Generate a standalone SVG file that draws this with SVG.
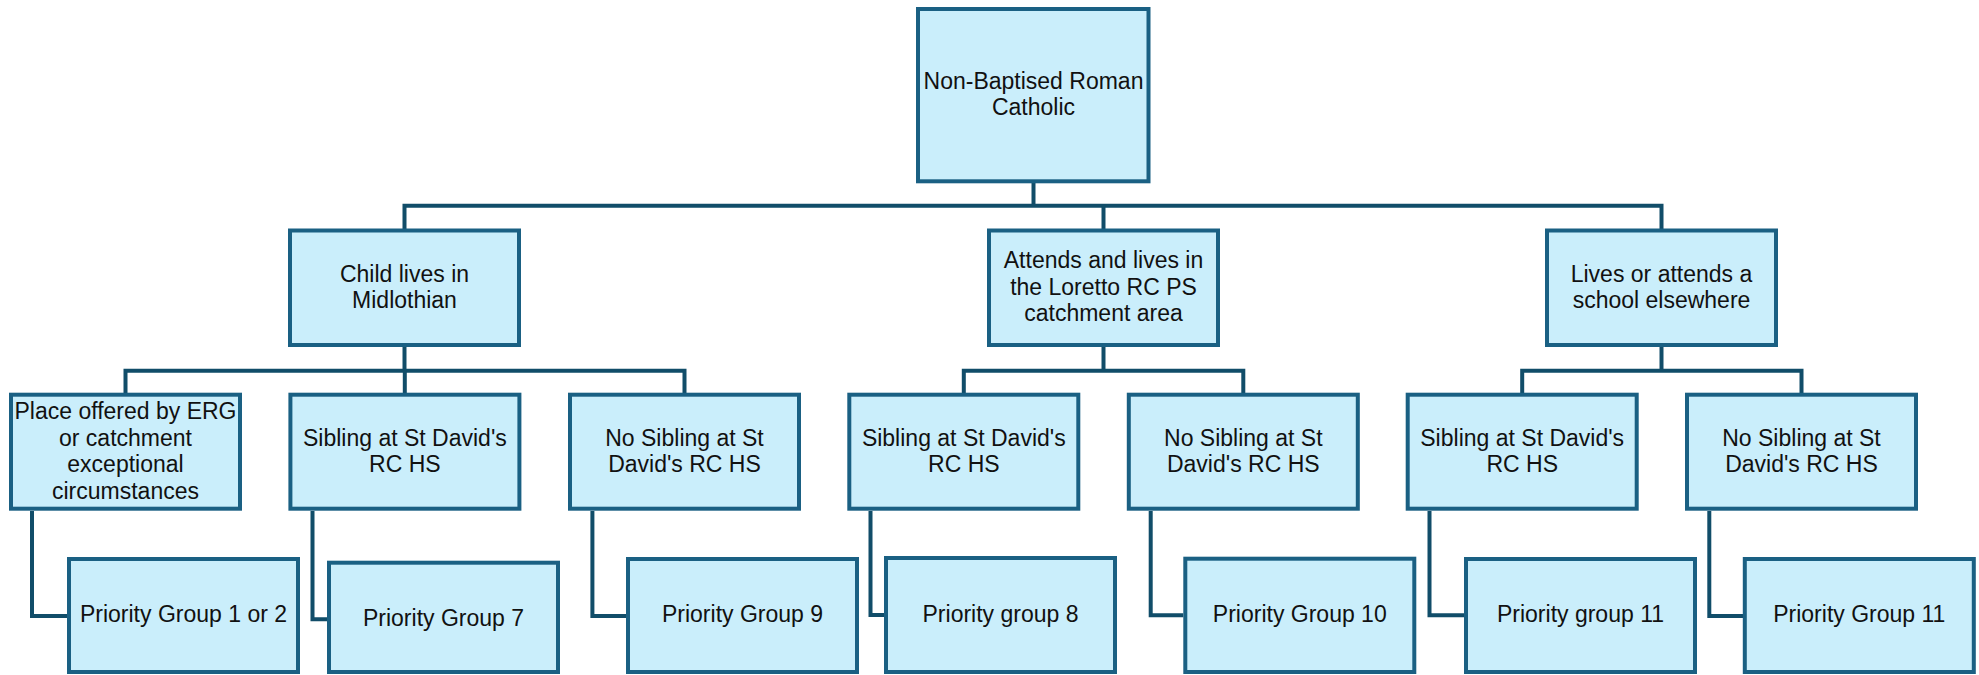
<svg xmlns="http://www.w3.org/2000/svg" width="1979" height="675" viewBox="0 0 1979 675">
<style>
.node rect{fill:#caeefb;stroke:#1a6083;stroke-width:4}
.node text{font-family:"Liberation Sans",Arial,sans-serif;font-size:23px;fill:#111;text-anchor:middle}
.conn path{fill:none;stroke:#114d69;stroke-width:4;stroke-linejoin:miter;stroke-linecap:butt}
</style>
<rect width="1979" height="675" fill="#ffffff"/>
<g class="conn" id="connectors">
<path d="M1033.5,183 V205.7"/>
<path d="M404.5,229 V205.7 H1661.5 V229"/>
<path d="M1103.5,205.7 V229"/>
<path d="M404.5,347 V370.7"/>
<path d="M125.5,393 V370.7 H684.5 V393"/>
<path d="M404.8,370.7 V393"/>
<path d="M1103.5,347 V370.7"/>
<path d="M963.8,393 V370.7 H1243.3 V393"/>
<path d="M1661.5,347 V370.7"/>
<path d="M1522.2,393 V370.7 H1801.5 V393"/>
<path d="M32,511 V616 H67"/>
<path d="M312.5,511 V619.3 H327"/>
<path d="M592.4,511 V616 H626"/>
<path d="M870.5,511 V615 H884"/>
<path d="M1150.7,511 V615.3 H1183.3"/>
<path d="M1429.5,511 V615.3 H1464"/>
<path d="M1709.3,511 V616 H1743"/>
</g>
<g class="node" id="root">
<rect x="918" y="9" width="230.5" height="172.3"/>
<text x="1033.5" y="88.8">Non-Baptised Roman</text>
<text x="1033.5" y="115">Catholic</text>
</g>
<g class="node" id="child-midlothian">
<rect x="290" y="230.5" width="229" height="114.5"/>
<text x="404.5" y="281.7">Child lives in</text>
<text x="404.5" y="308.3">Midlothian</text>
</g>
<g class="node" id="loretto">
<rect x="989" y="230.5" width="229" height="114.5"/>
<text x="1103.5" y="268.3">Attends and lives in</text>
<text x="1103.5" y="294.5">the Loretto RC PS</text>
<text x="1103.5" y="320.7">catchment area</text>
</g>
<g class="node" id="elsewhere">
<rect x="1547" y="230.5" width="229" height="114.5"/>
<text x="1661.5" y="281.7">Lives or attends a</text>
<text x="1661.5" y="308.3">school elsewhere</text>
</g>
<g class="node" id="place-erg">
<rect x="11" y="394.7" width="229" height="114"/>
<text x="125.5" y="419">Place offered by ERG</text>
<text x="125.5" y="445.5">or catchment</text>
<text x="125.5" y="472">exceptional</text>
<text x="125.5" y="498.5">circumstances</text>
</g>
<g class="node" id="sibling-1">
<rect x="290.4" y="394.7" width="229" height="114"/>
<text x="404.9" y="446">Sibling at St David's</text>
<text x="404.9" y="472">RC HS</text>
</g>
<g class="node" id="nosibling-1">
<rect x="570" y="394.7" width="229" height="114"/>
<text x="684.5" y="446">No Sibling at St</text>
<text x="684.5" y="472">David's RC HS</text>
</g>
<g class="node" id="sibling-2">
<rect x="849.3" y="394.7" width="229" height="114"/>
<text x="963.8" y="446">Sibling at St David's</text>
<text x="963.8" y="472">RC HS</text>
</g>
<g class="node" id="nosibling-2">
<rect x="1128.8" y="394.7" width="229" height="114"/>
<text x="1243.3" y="446">No Sibling at St</text>
<text x="1243.3" y="472">David's RC HS</text>
</g>
<g class="node" id="sibling-3">
<rect x="1407.7" y="394.7" width="229" height="114"/>
<text x="1522.2" y="446">Sibling at St David's</text>
<text x="1522.2" y="472">RC HS</text>
</g>
<g class="node" id="nosibling-3">
<rect x="1687" y="394.7" width="229" height="114"/>
<text x="1801.5" y="446">No Sibling at St</text>
<text x="1801.5" y="472">David's RC HS</text>
</g>
<g class="node" id="pg-1-2">
<rect x="69" y="559" width="229" height="113"/>
<text x="183.5" y="622.3">Priority Group 1 or 2</text>
</g>
<g class="node" id="pg-7">
<rect x="329" y="562.7" width="229" height="109.3"/>
<text x="443.5" y="625.5">Priority Group 7</text>
</g>
<g class="node" id="pg-9">
<rect x="628" y="559" width="229" height="113"/>
<text x="742.5" y="622.3">Priority Group 9</text>
</g>
<g class="node" id="pg-8">
<rect x="886" y="558" width="229" height="114"/>
<text x="1000.5" y="622.3">Priority group 8</text>
</g>
<g class="node" id="pg-10">
<rect x="1185.3" y="558.7" width="229" height="113.3"/>
<text x="1299.8" y="622.3">Priority Group 10</text>
</g>
<g class="node" id="pg-11a">
<rect x="1466" y="559" width="229" height="113"/>
<text x="1580.5" y="622.3">Priority group 11</text>
</g>
<g class="node" id="pg-11b">
<rect x="1744.8" y="559" width="229" height="113"/>
<text x="1859.3" y="622.3">Priority Group 11</text>
</g>
</svg>
